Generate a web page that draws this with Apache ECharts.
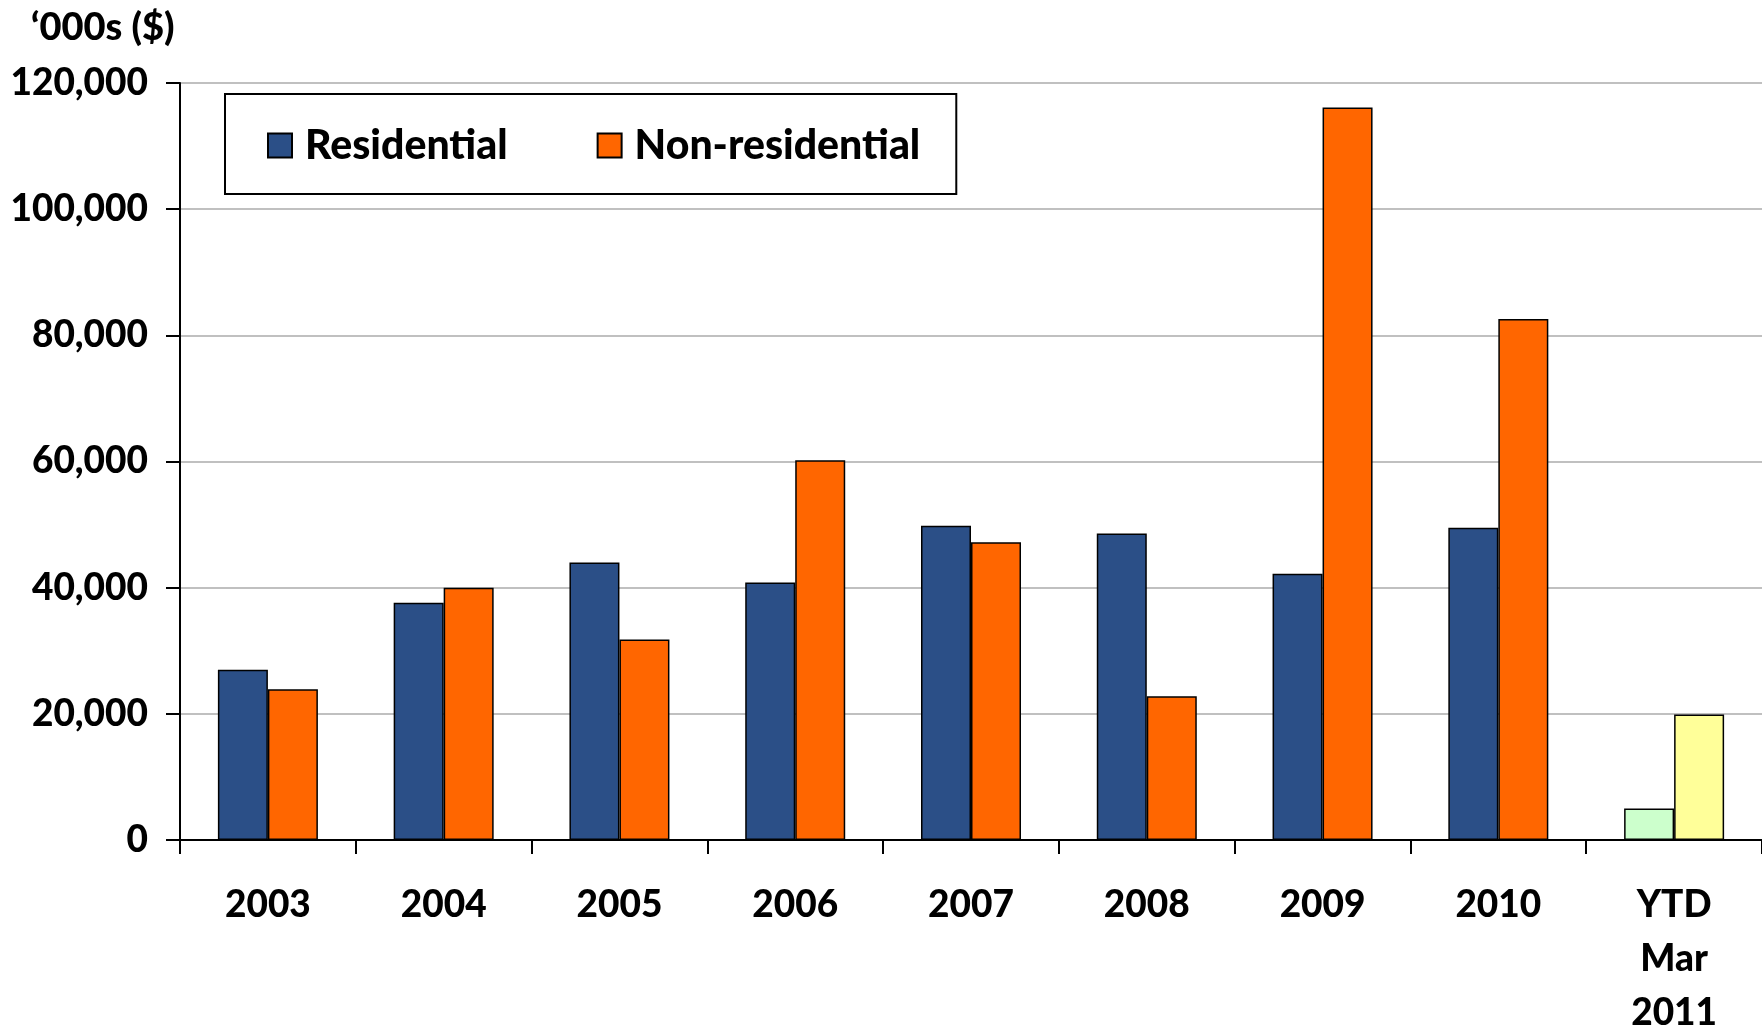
<!DOCTYPE html>
<html>
<head>
<meta charset="utf-8">
<script src="https://cdn.jsdelivr.net/npm/echarts@6/dist/echarts.min.js"></script>
<style>
html,body{margin:0;padding:0;background:#fff;overflow:hidden;}
#main{width:1762px;height:1035px;}
</style>
</head>
<body>
<div id="main"></div>
<script>
var categories = ['2003','2004','2005','2006','2007','2008','2009','2010','YTD\nMar\n2011'];
var residential = [27000, 37600, 44000, 40800, 49800, 48600, 42200, 49500, 5000];
var nonResidential = [23900, 40000, 31800, 60200, 47200, 22800, 116100, 82600, 19900];
var yTicks = [0, 20000, 40000, 60000, 80000, 100000, 120000];
var seriesNames = ['Residential', 'Non-residential'];
var axisTitle = '\u2018000s ($)';

var FONT = 'Lato';
var W = 900;
var resColor = '#2B4F87', nonColor = '#FF6600';
var ytdResColor = '#CCFFCC', ytdNonColor = '#FFFF99';

function mk(values, ytd) {
  return values.map(function (v, i) {
    if (i === values.length - 1) return { value: v, itemStyle: { color: ytd } };
    return v;
  });
}

var chart = echarts.init(document.getElementById('main'));
chart.setOption({
  animation: false,
  backgroundColor: '#fff',
  title: {
    text: axisTitle, left: 26, top: 4,
    textStyle: { fontFamily: FONT, fontWeight: W, fontSize: 38, color: '#000' }
  },
  legend: {
    left: 225, top: 94,
    padding: [31, 36, 28, 42],
    backgroundColor: '#fff',
    borderColor: '#000', borderWidth: 2,
    itemWidth: 24, itemHeight: 24, itemGap: 89,
    icon: 'rect',
    data: seriesNames,
    textStyle: { fontFamily: FONT, fontWeight: W, fontSize: 41, color: '#000', padding: [0,0,0,8] }
  },
  grid: { left: 180, right: 0, top: 83, bottom: 195, containLabel: false, outerBoundsMode: 'none' },
  xAxis: {
    type: 'category', data: categories,
    axisLine: { lineStyle: { color: '#000', width: 2 } },
    axisTick: { show: true, length: 14, lineStyle: { color: '#000', width: 2 } },
    axisLabel: { margin: 38, lineHeight: 54, fontFamily: FONT, fontWeight: W, fontSize: 37, color: '#000' }
  },
  yAxis: {
    type: 'value', min: yTicks[0], max: yTicks[yTicks.length - 1], interval: yTicks[1] - yTicks[0],
    axisLine: { show: true, lineStyle: { color: '#000', width: 2 } },
    axisTick: { show: true, length: 14, lineStyle: { color: '#000', width: 2 } },
    splitLine: { lineStyle: { color: '#C0C0C0', width: 2 } },
    axisLabel: {
      margin: 32, fontFamily: FONT, fontWeight: W, fontSize: 37, color: '#000',
      formatter: function (v) { return v.toLocaleString('en-US'); }
    }
  },
  series: [
    { name: seriesNames[0], type: 'bar', data: mk(residential, ytdResColor),
      barWidth: 50, barGap: '0%',
      itemStyle: { color: resColor, borderColor: '#000', borderWidth: 1.5 } },
    { name: seriesNames[1], type: 'bar', data: mk(nonResidential, ytdNonColor),
      barWidth: 50, barGap: '0%',
      itemStyle: { color: nonColor, borderColor: '#000', borderWidth: 1.5 } }
  ]
});
</script>
</body>
</html>
